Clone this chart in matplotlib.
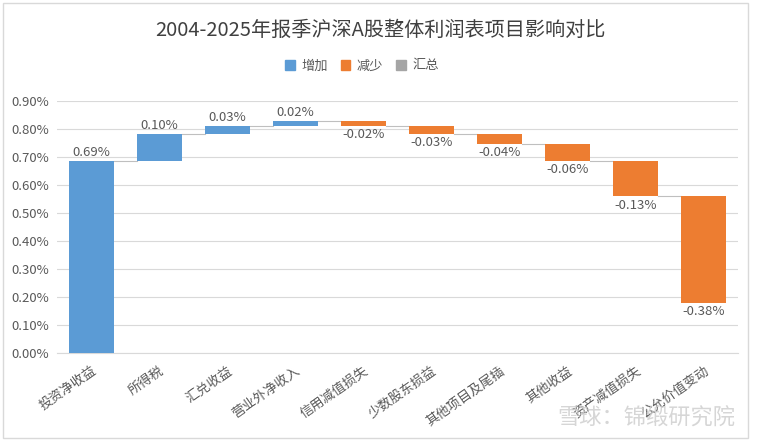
import matplotlib
matplotlib.use("Agg")
import numpy as np
from matplotlib import pyplot as plt
from matplotlib.patches import Patch, Rectangle
from matplotlib.ticker import FuncFormatter, MultipleLocator

plt.rcParams['font.family'] = ['Noto Sans CJK SC', 'DejaVu Sans']

# items and their effect on profit (percent points)
items = ["投资净收益", "所得税", "汇兑收益", "营业外净收入", "信用减值损失",
         "少数股东损益", "其他项目及尾插", "其他收益", "资产减值损失", "公允价值变动"]
changes = [0.686, 0.097, 0.027, 0.017, -0.017, -0.027, -0.036, -0.060, -0.128, -0.380]
title = "2004-2025年报季沪深A股整体利润表项目影响对比"
legend_names = ["增加", "减少", "汇总"]

blue = "#5B9BD5"
orange = "#ED7D31"
grey = "#A5A5A5"
txt = "#595959"

changes = np.array(changes)
ends = np.cumsum(changes)
starts = ends - changes
x = np.arange(len(items))
w = 0.66

fig = plt.figure(figsize=(7.59, 4.42), dpi=100)
ax = fig.add_axes([57/759, 1-353/442, (738-57)/759, (353-101)/442])

colors = [blue if c >= 0 else orange for c in changes]
ax.bar(x, changes, bottom=starts, width=w, color=colors, zorder=3)

# connector lines between bars
for i in range(len(items) - 1):
    ax.plot([x[i] + w/2, x[i+1] - w/2], [ends[i], ends[i]], color="#BFBFBF", lw=0.8, zorder=2)

# data labels
for i, c in enumerate(changes):
    lab = "%.2f%%" % c
    if c >= 0:
        ax.text(x[i], ends[i] + 0.008, lab, ha="center", va="bottom", fontsize=9.5, color=txt)
    else:
        ax.text(x[i], ends[i] - 0.008, lab, ha="center", va="top", fontsize=9.5, color=txt)

ax.set_xlim(-0.5, len(items) - 0.5)
ax.set_ylim(0, 0.9)
ax.yaxis.set_major_locator(MultipleLocator(0.1))
ax.yaxis.set_major_formatter(FuncFormatter(lambda v, p: "%.2f%%" % v))
ax.grid(axis="y", color="#D9D9D9", lw=0.8, zorder=0)
ax.set_axisbelow(True)
for s in ["top", "right", "left"]:
    ax.spines[s].set_visible(False)
ax.spines["bottom"].set_color("#D9D9D9")
ax.tick_params(axis="both", length=0, colors=txt, labelsize=9.5)
ax.tick_params(axis="y", pad=6)
ax.set_xticks(x)
ax.set_xticklabels(items, rotation=35, ha="right", rotation_mode="anchor")
ax.tick_params(axis="x", pad=8)

fig.text(380/759, 1-30/442, title, ha="center", va="center", fontsize=14.5, color="#404040")

handles = [Patch(color=blue), Patch(color=orange), Patch(color=grey)]
fig.legend(handles, legend_names, loc="center", bbox_to_anchor=(362/759, 1-66/442), ncol=3,
           frameon=False, fontsize=9.5, labelcolor=txt, handlelength=0.7, handleheight=0.7,
           handletextpad=0.5, columnspacing=1.0)

# outer chart border
fig.patches.append(Rectangle((3/759, 4/442), 745/759, 435/442, transform=fig.transFigure,
                             fill=False, edgecolor="#D9D9D9", lw=1))

# watermark
fig.text(735/759, 1-418/442, "雪球：锦缎研究院", ha="right", va="center", fontsize=16,
         color="#CCCCCC", alpha=0.8)

fig.savefig("out.png", dpi=100)
